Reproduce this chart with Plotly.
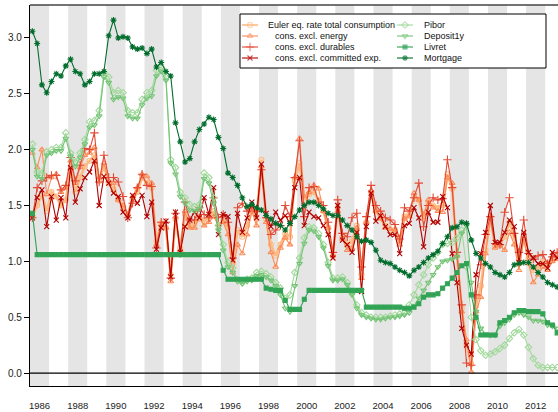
import plotly.graph_objects as go

# ---------------- data (quarterly, 1986Q1 - 2013Q3) ----------------
first_year = 1986
n_quarters = 111
quarter_dates = [first_year + (k + 0.5) / 4 for k in range(n_quarters)]

euler_total = [
    1.40, 1.50, 1.60, 1.45,  1.62, 1.58, 1.50, 1.55,  1.82, 1.62, 1.75, 1.85,
    1.90, 1.95, 1.72, 1.85,  1.70, 1.65, 1.55, 1.48,  1.42, 1.55, 1.62, 1.75,
    1.70, 1.66, 1.18, 1.34,  1.30, 0.88, 1.38, 1.12,  1.42, 1.32, 1.34, 1.38,
    1.36, 1.40, 1.45, 1.32,  1.36, 1.30, 0.98, 1.28,  1.22, 1.32, 1.45, 1.38,
    1.91, 1.38, 1.15, 1.05,  1.15, 1.25, 1.22, 1.72,  1.88, 1.55, 1.60, 1.62,
    1.55, 1.45, 1.30, 1.05,  1.48, 1.22, 1.15, 1.18,  1.32, 0.88, 1.35, 1.62,
    1.45, 1.40, 1.32, 1.28,  1.28, 1.18, 1.40, 1.42,  1.58, 1.55, 1.38, 1.52,
    1.50, 1.48, 1.50, 1.78,  1.65, 1.05, 0.58, 0.25,  0.08, 0.60, 0.78, 1.10,
    1.40, 1.14, 1.15, 1.22,  1.35, 1.22, 0.98, 1.22,  1.02, 0.92, 0.95, 1.00,
    0.98, 1.02, 1.05]

excl_energy = [
    1.97, 1.84, 2.00, 1.60,  1.75, 1.78, 1.62, 1.66,  1.90, 1.70, 1.84, 1.95,
    1.97, 2.02, 1.75, 1.88,  1.72, 1.70, 1.55, 1.50,  1.42, 1.58, 1.66, 1.78,
    1.76, 1.70, 1.15, 1.33,  1.30, 0.82, 1.40, 1.10,  1.45, 1.30, 1.30, 1.40,
    1.32, 1.35, 1.40, 1.33,  1.35, 1.24, 0.90, 1.15,  1.07, 1.24, 1.45, 1.32,
    1.85, 1.35, 1.08, 0.95,  1.12, 1.21, 1.15, 1.75,  2.10, 1.58, 1.62, 1.68,
    1.65, 1.45, 1.30, 1.05,  1.45, 1.20, 1.10, 1.12,  1.30, 0.85, 1.35, 1.63,
    1.45, 1.38, 1.30, 1.29,  1.28, 1.15, 1.38, 1.40,  1.61, 1.55, 1.42, 1.55,
    1.48, 1.45, 1.44, 1.75,  1.70, 1.05, 0.55, 0.30,  0.01, 0.55, 0.68, 1.07,
    1.38, 1.12, 1.14, 1.10,  1.26, 1.15, 0.92, 1.20,  0.98, 0.81, 0.88, 0.95,
    0.92, 1.00, 1.02]

excl_durables = [
    1.39, 1.66, 1.72, 1.75,  1.77, 1.77, 1.64, 1.68,  1.93, 1.72, 1.86, 2.01,
    2.00, 2.15, 1.71, 1.95,  1.75, 1.75, 1.71, 1.58,  1.39, 1.52, 1.66, 1.78,
    1.68, 1.67, 1.12, 1.35,  1.35, 0.85, 1.43, 1.07,  1.53, 1.37, 1.37, 1.48,
    1.42, 1.39, 1.57, 1.39,  1.42, 1.35, 1.03, 1.48,  1.52, 1.45, 1.49, 1.45,
    1.82, 1.39, 1.24, 1.28,  1.32, 1.50, 1.40, 1.75,  2.08, 1.40, 1.66, 1.67,
    1.53, 1.50, 1.35, 1.08,  1.55, 1.25, 1.22, 1.39,  1.43, 0.95, 1.40, 1.68,
    1.50, 1.45, 1.39, 1.37,  1.33, 1.20, 1.48, 1.45,  1.57, 1.70, 1.31, 1.50,
    1.57, 1.55, 1.56, 1.91,  1.66, 1.08, 0.61, 0.09,  0.07, 0.70, 0.97, 1.24,
    1.40, 1.16, 1.15, 1.44,  1.57, 1.25, 1.08, 1.37,  1.07, 1.02, 1.05, 1.06,
    0.98, 1.04, 1.08]

excl_committed = [
    1.39, 1.57, 1.64, 1.31,  1.58, 1.37, 1.57, 1.39,  1.84, 1.53, 1.65, 1.75,
    1.80, 1.90, 1.50, 1.76,  1.70, 1.61, 1.58, 1.44,  1.39, 1.59, 1.52, 1.59,
    1.40, 1.53, 1.11, 1.30,  1.36, 0.86, 1.44, 1.08,  1.31, 1.37, 1.44, 1.39,
    1.57, 1.42, 1.66, 1.24,  1.42, 1.40, 1.01, 1.43,  1.26, 1.39, 1.53, 1.39,
    1.87, 1.43, 1.31, 1.44,  1.37, 1.41, 1.34, 1.66,  1.75, 1.32, 1.44, 1.40,
    1.39, 1.32, 1.24, 1.03,  1.50, 1.19, 1.15, 1.08,  1.26, 0.73, 1.31, 1.61,
    1.36, 1.41, 1.31, 1.24,  1.24, 1.07, 1.32, 1.34,  1.48, 1.39, 1.13, 1.44,
    1.35, 1.35, 1.58, 1.48,  1.07, 0.81, 0.40, 0.25,  0.17, 0.88, 1.07, 1.26,
    1.50, 1.17, 1.17, 1.26,  1.37, 1.31, 0.99, 1.26,  1.08, 1.03, 0.98, 0.98,
    0.94, 1.08, 1.03]

pibor = [
    2.05, 1.80, 1.79, 1.98,  2.00, 2.02, 2.02, 2.15,  1.97, 1.89, 1.97, 2.09,
    2.25, 2.26, 2.35, 2.69,  2.65, 2.51, 2.53, 2.51,  2.35, 2.33, 2.33, 2.45,
    2.51, 2.53, 2.71, 2.74,  2.65, 1.91, 1.84, 1.62,  1.57, 1.51, 1.49, 1.51,
    1.79, 1.75, 1.57, 1.32,  1.15, 0.99, 0.94, 0.83,  0.81, 0.84, 0.85, 0.90,
    0.91, 0.89, 0.86, 0.81,  0.76, 0.67, 0.70, 0.90,  1.03, 1.21, 1.31, 1.30,
    1.25, 1.15, 0.99, 0.85,  0.85, 0.86, 0.81, 0.72,  0.61, 0.54, 0.52, 0.50,
    0.50, 0.50, 0.50, 0.51,  0.52, 0.53, 0.54, 0.61,  0.70, 0.79, 0.88, 0.97,
    1.03, 1.08, 1.15, 1.16,  1.17, 1.21, 1.28, 0.95,  0.50, 0.30, 0.20, 0.16,
    0.17, 0.19, 0.22, 0.25,  0.31, 0.36, 0.39, 0.34,  0.23, 0.13, 0.07, 0.05,
    0.05, 0.05, 0.05]

deposit_1y = [
    2.00, 1.76, 1.74, 1.95,  1.97, 1.99, 1.99, 2.10,  1.94, 1.85, 1.93, 2.05,
    2.20, 2.22, 2.30, 2.65,  2.60, 2.45, 2.47, 2.46,  2.30, 2.28, 2.28, 2.40,
    2.46, 2.48, 2.66, 2.70,  2.62, 1.88, 1.78, 1.58,  1.52, 1.46, 1.45, 1.47,
    1.74, 1.70, 1.52, 1.28,  1.10, 0.95, 0.90, 0.82,  0.80, 0.82, 0.83, 0.87,
    0.88, 0.86, 0.83, 0.78,  0.70, 0.58, 0.55, 0.78,  0.98, 1.16, 1.28, 1.27,
    1.22, 1.12, 0.96, 0.83,  0.83, 0.84, 0.79, 0.70,  0.58, 0.52, 0.50, 0.49,
    0.48, 0.48, 0.49, 0.50,  0.50, 0.51, 0.52, 0.54,  0.60, 0.67, 0.74, 0.81,
    0.88, 0.95, 1.00, 1.01,  1.02, 1.04, 1.25, 1.32,  0.81, 0.55, 0.40, 0.35,
    0.34, 0.34, 0.42, 0.45,  0.48, 0.52, 0.54, 0.52,  0.50, 0.47, 0.47, 0.46,
    0.43, 0.42, 0.40]

livret = [
    1.43, 1.06, 1.06, 1.06,  1.06, 1.06, 1.06, 1.06,  1.06, 1.06, 1.06, 1.06,
    1.06, 1.06, 1.06, 1.06,  1.06, 1.06, 1.06, 1.06,  1.06, 1.06, 1.06, 1.06,
    1.06, 1.06, 1.06, 1.06,  1.06, 1.06, 1.06, 1.06,  1.06, 1.06, 1.06, 1.06,
    1.06, 1.06, 1.06, 1.06,  0.92, 0.84, 0.84, 0.84,  0.84, 0.84, 0.84, 0.84,
    0.84, 0.76, 0.75, 0.74,  0.74, 0.65, 0.57, 0.57,  0.57, 0.66, 0.74, 0.74,
    0.74, 0.74, 0.74, 0.74,  0.74, 0.74, 0.74, 0.74,  0.74, 0.74, 0.59, 0.59,
    0.59, 0.59, 0.59, 0.59,  0.59, 0.59, 0.58, 0.58,  0.59, 0.62, 0.68, 0.70,
    0.70, 0.71, 0.76, 0.80,  0.85, 0.90, 0.96, 0.98,  0.70, 0.50, 0.34, 0.34,
    0.34, 0.34, 0.45, 0.47,  0.50, 0.54, 0.56, 0.56,  0.55, 0.55, 0.55, 0.53,
    0.45, 0.43, 0.36]

mortgage = [
    3.06, 2.95, 2.58, 2.51,  2.61, 2.68, 2.66, 2.75,  2.81, 2.70, 2.68, 2.58,
    2.61, 2.68, 2.68, 2.70,  3.02, 3.16, 3.00, 3.01,  3.00, 2.92, 2.90, 2.91,
    2.86, 2.90, 2.74, 2.78,  2.70, 2.66, 2.24, 2.07,  1.89, 1.92, 2.07, 2.18,
    2.23, 2.29, 2.27, 2.11,  2.01, 1.79, 1.75, 1.68,  1.57, 1.49, 1.51, 1.48,
    1.46, 1.41, 1.38, 1.34,  1.32, 1.28, 1.34, 1.40,  1.46, 1.50, 1.53, 1.53,
    1.50, 1.47, 1.43, 1.41,  1.41, 1.37, 1.32, 1.28,  1.22, 1.18, 1.19, 1.17,
    1.10, 1.01, 0.99, 0.98,  0.95, 0.92, 0.90, 0.87,  0.92, 0.95, 0.99, 1.03,
    1.06, 1.09, 1.16, 1.22,  1.30, 1.31, 1.35, 1.34,  1.19, 1.07, 1.03, 0.98,
    0.95, 0.90, 0.88, 0.86,  0.90, 0.97, 0.98, 0.99,  0.99, 0.95, 0.90, 0.86,
    0.81, 0.79, 0.77]

series_names = ["Euler eq. rate total consumption", "cons. excl. energy",
                "cons. excl. durables", "cons. excl. committed exp.",
                "Pibor", "Deposit1y", "Livret", "Mortgage"]
series_values = [euler_total, excl_energy, excl_durables, excl_committed,
                 pibor, deposit_1y, livret, mortgage]

tick_years = list(range(1986, 2013, 2))
y_ticks = [0.0, 0.5, 1.0, 1.5, 2.0, 2.5, 3.0]

# ---------------- styles ----------------
colors = ["#FDBB84", "#FC8D59", "#E34A33", "#B30000",
          "#A1D99B", "#74C476", "#31A354", "#006D2C"]
symbols = ["circle-open", "triangle-up-open", "cross-thin-open", "x-thin-open",
           "diamond-open", "triangle-down-open", "square", "asterisk-open"]
msizes = [5, 5, 6, 5, 5, 5, 4, 5]
lwidths = [2.6, 1.1, 1.1, 1.1, 1.1, 1.1, 1.1, 1.1]

FONT = "Liberation Sans, Arial, Helvetica, sans-serif"

fig = go.Figure()
for name, vals, c, s, ms, lw in zip(series_names, series_values, colors, symbols, msizes, lwidths):
    fig.add_trace(go.Scatter(
        x=quarter_dates, y=vals, name=name, mode="lines+markers",
        line=dict(color=c, width=lw),
        marker=dict(symbol=s, size=ms, color=c, line=dict(color=c, width=1.1)),
        showlegend=False))

# ---------------- hand-drawn legend (pixel coordinates on overlay axes) ----------------
rows_y = [25, 36, 47, 58]
col_cx = [250, 405]
text_x = [[266, 273, 273, 273], [422, 422, 422, 422]]
for k, (lab, c, s, ms, lw) in enumerate(zip(series_names, colors, symbols, msizes, lwidths)):
    col, row = divmod(k, 4)
    cx, cy = col_cx[col], rows_y[row]
    fig.add_trace(go.Scatter(
        x=[cx - 8, cx, cx + 8], y=[cy, cy, cy], xaxis="x2", yaxis="y2",
        mode="lines+markers", line=dict(color=c, width=min(lw, 1.6)),
        marker=dict(symbol=s, size=[0, ms, 0], color=c, line=dict(color=c, width=1.1)),
        showlegend=False, hoverinfo="skip"))
    fig.add_annotation(x=text_x[col][row], y=cy, xref="x2", yref="y2",
                       text=lab, showarrow=False, xanchor="left", yanchor="middle",
                       font=dict(family=FONT, size=9, color="#111"))

shapes = []
for yr in range(1986, 2013, 2):
    shapes.append(dict(type="rect", xref="x", yref="paper", x0=yr, x1=yr + 1, y0=0, y1=1,
                       fillcolor="#E5E5E5", line=dict(width=0), layer="below"))
shapes.append(dict(type="rect", xref="x2", yref="y2", x0=240, x1=546, y0=14, y1=68,
                   fillcolor="white", line=dict(color="black", width=1), layer="below"))
shapes.append(dict(type="line", xref="paper", yref="y", x0=0, x1=1, y0=0, y1=0,
                   line=dict(color="black", width=1.2)))
shapes.append(dict(type="line", xref="paper", yref="paper", x0=0, x1=1, y0=1, y1=1,
                   line=dict(color="#444", width=1.6)))

fig.update_layout(
    width=558, height=412,
    margin=dict(l=30, r=0, t=5, b=26),
    paper_bgcolor="white", plot_bgcolor="white",
    font=dict(family=FONT, size=10, color="#222"),
    showlegend=False,
    hovermode=False,
    shapes=shapes,
    xaxis=dict(range=[1986.0, 2013.67], tickvals=[y + 0.5 for y in tick_years],
               ticktext=[str(y) for y in tick_years], ticks="", showgrid=False,
               zeroline=False, showline=True, linecolor="black", linewidth=1.2,
               tickfont=dict(size=9.5, color="#222"), ticklabelstandoff=10,
               automargin=False),
    yaxis=dict(range=[-0.116, 3.295], tickvals=y_ticks,
               ticktext=[f"{v:.1f}" for v in y_ticks], ticks="outside", ticklen=5,
               tickcolor="black", showgrid=False, zeroline=False, showline=True,
               linecolor="black", linewidth=1.2, tickfont=dict(size=10, color="#222"),
               automargin=False),
    xaxis2=dict(overlaying="x", range=[30, 558], visible=False),
    yaxis2=dict(overlaying="y", range=[386, 5], visible=False),
)

fig.write_html("out.html",
               config={"displayModeBar": False},
               post_script="document.body.style.margin='0px';document.body.style.overflow='hidden';")
